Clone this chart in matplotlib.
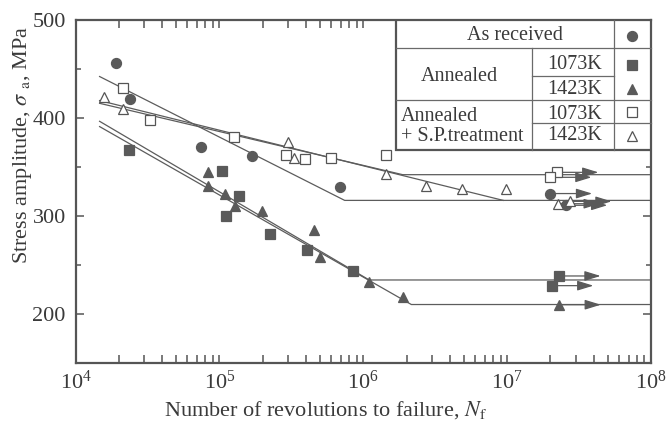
import matplotlib
matplotlib.use("Agg")
import matplotlib.pyplot as plt
from matplotlib.ticker import LogLocator, LogFormatterMathtext, MultipleLocator, NullFormatter
from matplotlib.patches import Rectangle

plt.rcParams['font.family'] = ['Liberation Serif', 'DejaVu Serif']
plt.rcParams['mathtext.fontset'] = 'stix'

# ---------------- data ----------------
# As received (filled circle)
ar_N = [1.92e4, 2.38e4, 7.4e4, 1.68e5, 6.9e5]
ar_S = [457, 420, 371, 361, 330]
ar_run_N = [2.0e7, 2.55e7]
ar_run_S = [323, 311]

# Annealed 1073K (filled square)
a1073_N = [2.34e4, 1.05e5, 1.38e5, 1.12e5, 2.24e5, 4.06e5, 8.5e5]
a1073_S = [368, 346.5, 320, 300.4, 281.7, 265.3, 244]
a1073_run_N = [2.29e7, 2.04e7]
a1073_run_S = [238.7, 228.8]

# Annealed 1423K (filled triangle)
a1423_N = [8.3e4, 8.3e4, 1.09e5, 1.28e5, 1.99e5, 4.53e5, 4.98e5, 1.1e6, 1.89e6]
a1423_S = [344.7, 331, 322.6, 310.7, 305.5, 285.8, 257.7, 233, 216.8]
a1423_run_N = [2.3e7]
a1423_run_S = [209.3]

# Annealed + S.P. treatment 1073K (open square)
sp1073_N = [2.13e4, 3.27e4, 1.26e5, 2.89e5, 3.96e5, 6.0e5, 1.44e6]
sp1073_S = [431, 398, 381, 362, 358, 359.5, 362.5]
sp1073_run_N = [2.21e7, 1.98e7]
sp1073_run_S = [344.7, 339.6]

# Annealed + S.P. treatment 1423K (open triangle)
sp1423_N = [1.59e4, 2.13e4, 3.02e5, 3.29e5, 1.45e6, 2.75e6, 4.82e6, 9.9e6]
sp1423_S = [422, 409.6, 375.5, 359.5, 343, 331, 327.7, 327.7]
sp1423_run_N = [2.26e7, 2.73e7]
sp1423_run_S = [312.6, 315]

# S-N fit lines (polyline nodes)
ar_line_N = [1.47e4, 7.43e5, 1e8]
ar_line_S = [442.7, 316.0, 316.0]
a1073_line_N = [1.47e4, 1.1e6, 1e8]
a1073_line_S = [396.9, 234.6, 234.6]
a1423_line_N = [1.47e4, 2.16e6, 1e8]
a1423_line_S = [391.5, 209.5, 209.5]
sp1073_line_N = [1.47e4, 1.88e6, 1e8]
sp1073_line_S = [415.3, 342.3, 342.3]
sp1423_line_N = [1.47e4, 9.4e6]
sp1423_line_S = [418.1, 316.0]

# ---------------- style ----------------
GRAY = '#5a5a5a'
LINE = '#5c5c5c'
TXT = '#3a3a3a'
SPINE = '#555555'

fig = plt.figure(figsize=(6.7, 4.26), dpi=100)
ax = fig.add_axes([0.1127, 0.1486, 0.8589, 0.8033])

for nn, ss in [(ar_line_N, ar_line_S), (a1073_line_N, a1073_line_S),
               (a1423_line_N, a1423_line_S), (sp1073_line_N, sp1073_line_S),
               (sp1423_line_N, sp1423_line_S)]:
    ax.plot(nn, ss, color=LINE, lw=0.9, zorder=2)

series = [
    (ar_N, ar_S, ar_run_N, ar_run_S, 'o', GRAY, 7.2),
    (a1073_N, a1073_S, a1073_run_N, a1073_run_S, 's', GRAY, 7.2),
    (a1423_N, a1423_S, a1423_run_N, a1423_run_S, '^', GRAY, 7.8),
    (sp1073_N, sp1073_S, sp1073_run_N, sp1073_run_S, 's', 'white', 7.2),
    (sp1423_N, sp1423_S, sp1423_run_N, sp1423_run_S, '^', 'white', 7.8),
]
ARROW_FACTOR = 1.95
for N, S, rN, rS, m, fc, ms in series:
    for x, y in zip(rN, rS):
        ax.annotate('', xy=(x * ARROW_FACTOR, y), xytext=(x, y),
                    arrowprops=dict(arrowstyle='-|>,head_length=0.65,head_width=0.2',
                                    color=GRAY, lw=0.9, shrinkA=0, shrinkB=0,
                                    mutation_scale=15), zorder=3)
    ax.plot(list(N) + list(rN), list(S) + list(rS), linestyle='none', marker=m,
            ms=ms, mfc=fc, mec=SPINE if fc == 'white' else GRAY, mew=0.9, zorder=4)

ax.set_xscale('log')
ax.set_xlim(1e4, 1e8)
ax.set_ylim(150, 500)
ax.xaxis.set_major_locator(LogLocator(base=10, numticks=10))
ax.xaxis.set_minor_locator(LogLocator(base=10, subs=range(2, 10), numticks=50))
ax.xaxis.set_major_formatter(LogFormatterMathtext())
ax.xaxis.set_minor_formatter(NullFormatter())
ax.yaxis.set_major_locator(MultipleLocator(100))
ax.yaxis.set_minor_locator(MultipleLocator(50))

ax.tick_params(which='both', direction='in', top=True, right=True,
               colors=SPINE, labelcolor=TXT, labelsize=16, width=1.1)
ax.tick_params(axis='x', which='major', length=6, pad=6)
ax.tick_params(axis='x', which='minor', length=5.5)
ax.tick_params(axis='y', which='major', length=5.5, pad=7)
ax.tick_params(axis='y', which='minor', length=3.5)
for sp in ax.spines.values():
    sp.set_color(SPINE)
    sp.set_linewidth(1.6)

ax.set_xlabel(r'Number of revolutions to failure, $N_{\mathrm{f}}$', fontsize=16, color=TXT)
ax.xaxis.set_label_coords(0.435, -0.105)
ax.set_ylabel(r'Stress amplitude, $\sigma\ _{\mathrm{a}}$, MPa', fontsize=16, color=TXT)
ax.yaxis.set_label_coords(-0.072, 0.636)

# ---------------- legend table ----------------
T = ax.transAxes
x0, x1, x2, x3 = 0.557, 0.794, 0.935, 1.0
yt, r1, r2, r3, r4, yb = 1.0, 0.9205, 0.838, 0.768, 0.700, 0.6216
ax.add_patch(Rectangle((x0, yb), x3 - x0, yt - yb, transform=T, fill=True,
                       facecolor='white', edgecolor=SPINE, lw=1.6, zorder=6))
tl = dict(transform=T, color='#6a6a6a', lw=0.9, zorder=7, clip_on=False)
ax.plot([x0, x3], [r1, r1], **tl)
ax.plot([x1, x2], [r2, r2], **tl)
ax.plot([x0, x3], [r3, r3], **tl)
ax.plot([x1, x3], [r4, r4], **tl)
ax.plot([x1, x1], [r1, yb], **tl)
ax.plot([x2, x2], [yt, yb], **tl)

tk = dict(transform=T, fontsize=14.5, color=TXT, zorder=8, va='center')
ax.text(0.7637, 0.9547, 'As received', ha='center', **tk)
ax.text(0.6664, 0.8358, 'Annealed', ha='center', **tk)
ax.text(0.868, 0.870, '1073K', ha='center', **tk)
ax.text(0.868, 0.799, '1423K', ha='center', **tk)
ax.text(0.566, 0.719, 'Annealed', ha='left', **tk)
ax.text(0.566, 0.660, '+ S.P.treatment', ha='left', **tk)
ax.text(0.868, 0.724, '1073K', ha='center', **tk)
ax.text(0.868, 0.665, '1423K', ha='center', **tk)

sx = 0.9665
leg = [(0.9547, 'o', GRAY, 7.2), (0.870, 's', GRAY, 7.2), (0.799, '^', GRAY, 7.8),
       (0.733, 's', 'white', 7.2), (0.6625, '^', 'white', 7.8)]
for yy, m, fc, ms in leg:
    ax.plot([sx], [yy], transform=T, marker=m, ms=ms, mfc=fc,
            mec=SPINE if fc == 'white' else GRAY, mew=0.9, zorder=9, clip_on=False)

fig.savefig('out.png', dpi=100, facecolor='white')
